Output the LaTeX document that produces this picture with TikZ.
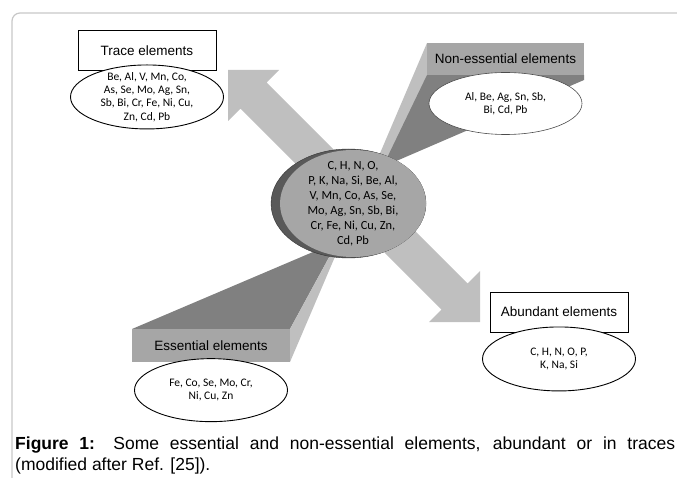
\documentclass[tikz,border=0pt]{standalone}
\usepackage{fontspec}
\setmainfont{Liberation Sans}
\newfontfamily\calibfont{Carlito}
\usetikzlibrary{positioning,shapes.geometric}

\begin{document}
\begin{tikzpicture}[x=1pt,y=-1pt,
        tbox/.style={rectangle,inner sep=0pt,font=\fontsize{13.5}{16}\selectfont},
        elist/.style={ellipse,draw,fill=white,line width=0.9pt,inner sep=-4pt,
            minimum width=153pt,minimum height=63pt,align=center,
            font=\calibfont\fontsize{11.5}{13.3}\selectfont}]
            \useasboundingbox (0,0) rectangle (677,478);
            \draw [black!22,line width=1.2pt,rounded corners=8pt] (700,13) -- (12,13) -- (12,500);

            % double block arrow
            \fill [black!25] (228,70) -- (279,70) -- (266.6,82.4) -- (467.6,283.4) -- (480,271)
                -- (480,322) -- (429,322) -- (441.4,309.6) -- (240.4,108.6) -- (228,121) -- cycle;

            % wedges
            \fill [black!25] (427,43) -- (427,76) -- (388,160) -- (378,158) -- cycle;
            \fill [black!50] (427,75) -- (584,75) -- (584,80) -- (394,162) -- (386,160) -- cycle;
            \fill [black!50] (132,329) -- (290,329) -- (333,250) -- (320,249) -- cycle;
            \fill [black!25] (290,329) -- (290,362) -- (337,252) -- (333,250) -- cycle;

            \node [tbox,draw,line width=1pt,minimum width=138pt,minimum height=40pt] (trace) at (147,51) {Trace elements};
            \node [tbox,fill=black!35,minimum width=157pt,minimum height=32pt] (nonessential) at (505.5,59) {Non-essential elements};
            \node [tbox,fill=black!35,minimum width=158pt,minimum height=33pt] (essential) at (211,345.5) {Essential elements};
            \node [tbox,draw,line width=1pt,minimum width=138pt,minimum height=40pt] (abundant) at (559,312) {Abundant elements};

            \node [elist,below=-7pt of trace,minimum height=64pt] (tracelist) {Be, Al, V, Mn, Co,\\As, Se, Mo, Ag, Sn,\\Sb, Bi, Cr, Fe, Ni, Cu,\\Zn, Cd, Pb};
            \node [elist,below=-3pt of nonessential,draw=black!70,line width=0.6pt,minimum height=62pt] (nonessentiallist) {Al, Be, Ag, Sn, Sb,\\Bi, Cd, Pb};
            \node [elist,below=-4pt of essential] (essentiallist) {Fe, Co, Se, Mo, Cr,\\Ni, Cu, Zn};
            \node [elist,below=-6pt of abundant,minimum height=64pt] (abundantlist) {C, H, N, O, P,\\K, Na, Si};

            % central disc
            \node [ellipse,draw=black!80,fill=black!65,minimum width=155pt,minimum height=109pt] (disc) at (348.5,203.5) {};
            \node [ellipse,fill=black!35,inner sep=-6pt,minimum width=146pt,minimum height=107pt,align=center,
                font=\calibfont\fontsize{12.4}{15}\selectfont] (core) at (353,203.5)
                {C, H, N, O,\\P, K, Na, Si, Be, Al,\\V, Mn, Co, As, Se,\\Mo, Ag, Sn, Sb, Bi,\\Cr, Fe, Ni, Cu, Zn,\\Cd, Pb};

            \node [anchor=base west,inner sep=0pt,text width=660pt,align=justify,
                font=\fontsize{17.5}{21}\selectfont] (caption) at (15,449)
                {\textbf{Figure 1:} Some essential and non-essential elements, abundant or in traces\linebreak (modified after Ref. [25]).};
        \end{tikzpicture}
\end{document}
